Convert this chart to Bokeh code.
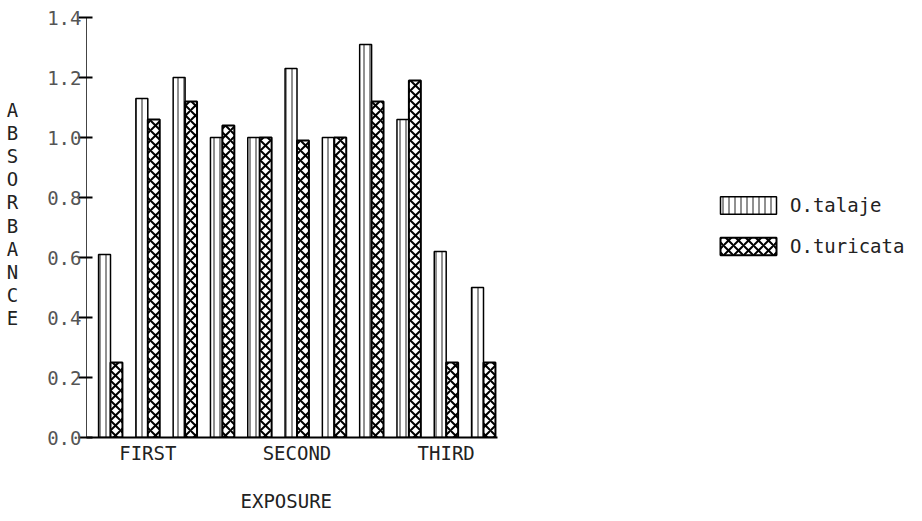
import numpy as np
from bokeh.plotting import figure
from bokeh.models import (ColumnDataSource, FixedTicker, Legend, LegendItem,
                          Range1d, PrintfTickFormatter, Title)
from bokeh.transform import dodge
from bokeh.embed import file_html
from bokeh.resources import INLINE

# ---- data ----
pairs = list(range(1, 12))
talaje = [0.61, 1.13, 1.20, 1.00, 1.00, 1.23, 1.00, 1.31, 1.06, 0.62, 0.50]
turicata = [0.25, 1.06, 1.12, 1.04, 1.00, 0.99, 1.00, 1.12, 1.19, 0.25, 0.25]
exposure_pairs = [2, 6, 10]
exposure_labels = ["FIRST", "SECOND", "THIRD"]
y_ticks = [0.0, 0.2, 0.4, 0.6, 0.8, 1.0, 1.2, 1.4]
series_names = ["O.talaje", "O.turicata"]
y_title = "ABSORBANCE"
x_title = "EXPOSURE"

# ---- layout ----
PX = 37.3          # pixels per pair
PY = 300.0         # pixels per absorbance unit
W, H = 922, 532
LEFT, TOP, BOTTOM = 86, 13, 95
frame_w = W - LEFT
x0 = 1 - 24 / PX
x1 = x0 + frame_w / PX
y1 = 1.4 + 4 / PY
FONT = "DejaVu Sans Mono"

src = ColumnDataSource(dict(x=pairs, talaje=talaje, turicata=turicata))

p = figure(width=W, height=H, x_range=Range1d(x0, x1), y_range=Range1d(0, y1),
           output_backend="svg", toolbar_location=None,
           min_border_left=LEFT, min_border_right=0, min_border_top=TOP,
           min_border_bottom=BOTTOM)
p.xgrid.visible = False
p.ygrid.visible = False
p.outline_line_color = None
p.background_fill_color = "white"
p.border_fill_color = "white"

bw = 0.32
r1 = p.vbar(x=dodge("x", -bw / 2), top="talaje", width=bw, bottom=0, source=src,
            fill_color="white", line_color="black", line_width=1.5,
            hatch_pattern="|", hatch_scale=6, hatch_weight=1, hatch_color="#222222")
r2 = p.vbar(x=dodge("x", bw / 2), top="turicata", width=bw, bottom=0, source=src,
            fill_color="white", line_color="black", line_width=2,
            hatch_pattern="x", hatch_scale=10, hatch_weight=2, hatch_color="black")

# x axis
xa = p.xaxis[0]
xa.ticker = FixedTicker(ticks=exposure_pairs)
xa.major_label_overrides = {k: v for k, v in zip(exposure_pairs, exposure_labels)}
xa.major_tick_line_color = None
xa.minor_tick_line_color = None
xa.major_tick_out = 0
xa.major_tick_in = 0
xa.major_label_standoff = 4
xa.axis_line_width = 2
xa.axis_line_color = "black"
xa.bounds = (x0 - 7 / PX, x0 + (497 - 86) / PX)
xa.major_label_text_font = FONT
xa.major_label_text_font_size = "19px"
xa.major_label_text_color = "#222222"

# y axis
ya = p.yaxis[0]
ya.ticker = FixedTicker(ticks=y_ticks)
ya.formatter = PrintfTickFormatter(format="%.1f")
ya.minor_tick_line_color = None
ya.major_tick_in = 6
ya.major_tick_out = 8
ya.major_tick_line_width = 2
ya.major_tick_line_color = "black"
ya.major_label_standoff = -3
ya.axis_line_color = "#444444"
ya.axis_line_width = 1
ya.bounds = (0, 1.4)
ya.major_label_text_font = FONT
ya.major_label_text_font_size = "19px"
ya.major_label_text_color = "#555555"
ya.axis_label = "\n".join(y_title) + "\n"
ya.axis_label_orientation = "horizontal"
ya.axis_label_standoff = 26
ya.axis_label_text_font = FONT
ya.axis_label_text_font_size = "19px"
ya.axis_label_text_font_style = "normal"
ya.axis_label_text_color = "#222222"
ya.axis_label_text_line_height = 1.05

# x title below
p.add_layout(Title(text=x_title, align="left", offset=154, standoff=42,
                   text_font=FONT, text_font_size="19px", text_font_style="normal",
                   text_color="#222222"), "below")

legend = Legend(items=[LegendItem(label=series_names[0], renderers=[r1]),
                       LegendItem(label=series_names[1], renderers=[r2])],
                location=(627, 180), orientation="vertical")
legend.glyph_width = 70
legend.glyph_height = 22
legend.label_height = 22
legend.spacing = 19
legend.padding = 0
legend.margin = 0
legend.label_standoff = 7
legend.border_line_color = None
legend.background_fill_alpha = 0
legend.label_text_font = FONT
legend.label_text_font_size = "19px"
legend.label_text_color = "#222222"
p.add_layout(legend)

open("out.html", "w").write(file_html(p, INLINE))
